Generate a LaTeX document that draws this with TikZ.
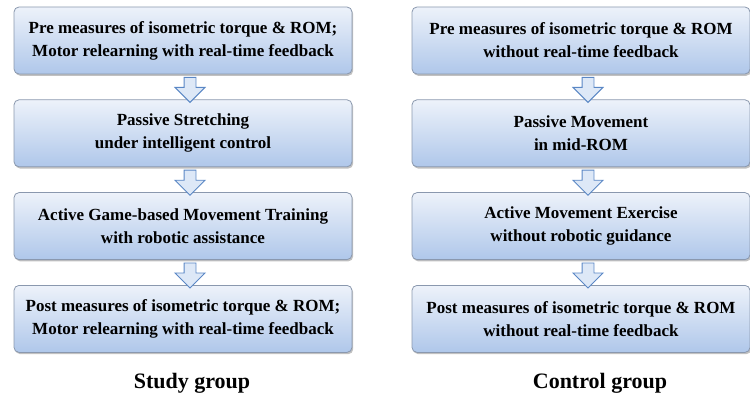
\documentclass[tikz,border=0pt]{standalone}
\usepackage{fontspec}
\setmainfont{Liberation Serif}
\usepackage{tikz}
\usetikzlibrary{positioning,calc,shapes.arrows,shadows}

\definecolor{boxtop}{HTML}{EDF2FA}
\definecolor{boxbot}{HTML}{AFC7EA}
\definecolor{boxline}{HTML}{8A98AE}
\definecolor{arrline}{HTML}{5A87C5}
\definecolor{arrfill}{HTML}{DDE8F7}

\begin{document}
\begin{tikzpicture}[x=1pt, y=-1pt, node distance=25pt,
    stage/.style={rectangle, rounded corners=5pt, draw=boxline, line width=0.8pt,
      top color=boxtop, bottom color=boxbot, minimum width=338pt, minimum height=67pt,
      align=center, font=\fontsize{17}{23}\selectfont\bfseries,
      drop shadow={shadow xshift=1.2pt, shadow yshift=-1.8pt, opacity=0.35, fill=black!70}},
    flowarrow/.style={single arrow, shape border rotate=270, draw=arrline, fill=arrfill,
      line width=0.9pt, minimum height=25pt, minimum width=29pt,
      single arrow head extend=9pt, inner sep=5.5pt},
    caption/.style={font=\fontsize{22}{26}\selectfont\bfseries}]
  \useasboundingbox (0,0) rectangle (750,401);

  % Study group
  \node[stage] (s1) at (183,40.5)
    {Pre measures of isometric torque \& ROM;\\Motor relearning with real-time feedback};
  \node[stage,below=of s1] (s2)
    {Passive Stretching\\under intelligent control};
  \node[stage,below=of s2] (s3)
    {Active Game-based Movement Training\\with robotic assistance};
  \node[stage,below=of s3] (s4)
    {Post measures of isometric torque \& ROM;\\Motor relearning with real-time feedback};
  \node[caption] (study) at (192,383) {Study group};

  % Control group
  \node[stage] (c1) at (581,40.5)
    {Pre measures of isometric torque \& ROM\\without real-time feedback};
  \node[stage,below=of c1] (c2)
    {Passive Movement\\in mid-ROM};
  \node[stage,below=of c2] (c3)
    {Active Movement Exercise\\without robotic guidance};
  \node[stage,below=of c3] (c4)
    {Post measures of isometric torque \& ROM\\without real-time feedback};
  \node[caption] (control) at (600,383) {Control group};

  % block arrows between stages
  \foreach \a/\b in {s1/s2,s2/s3,s3/s4,c1/c2,c2/c3,c3/c4}
    \node[flowarrow,xshift=7pt] (\a\b) at ($(\a.south)!0.5!(\b.north)$) {};
\end{tikzpicture}
\end{document}
